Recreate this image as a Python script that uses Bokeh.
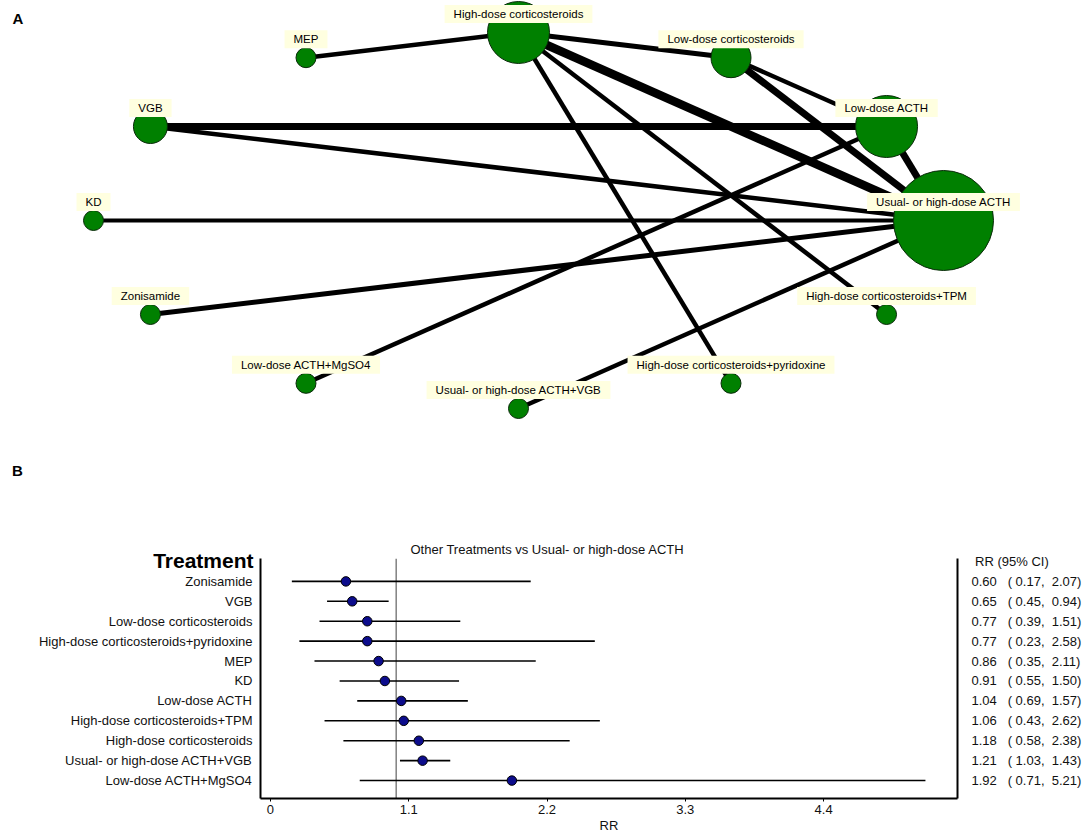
import numpy as np
from bokeh.plotting import figure
from bokeh.models import Range1d, Label, Span, FixedTicker, LinearAxis, ColumnDataSource
from bokeh.layouts import column
from bokeh.embed import file_html
from bokeh.resources import INLINE

FONT = "Liberation Sans"
NBSP = "\u00a0"

# ---------------- Panel A : network data ----------------
nodes = [
    "High-dose corticosteroids",
    "Low-dose corticosteroids",
    "Low-dose ACTH",
    "Usual- or high-dose ACTH",
    "High-dose corticosteroids+TPM",
    "High-dose corticosteroids+pyridoxine",
    "Usual- or high-dose ACTH+VGB",
    "Low-dose ACTH+MgSO4",
    "Zonisamide",
    "KD",
    "VGB",
    "MEP",
]
node_weight = [62, 40, 62, 100, 20, 20, 20, 20, 20, 20, 34, 20]

edge_from = [
    "MEP",
    "High-dose corticosteroids",
    "High-dose corticosteroids",
    "High-dose corticosteroids",
    "High-dose corticosteroids",
    "Low-dose corticosteroids",
    "Low-dose corticosteroids",
    "Low-dose ACTH",
    "VGB",
    "VGB",
    "KD",
    "Zonisamide",
    "Low-dose ACTH+MgSO4",
    "Usual- or high-dose ACTH+VGB",
]
edge_to = [
    "High-dose corticosteroids",
    "Low-dose corticosteroids",
    "Usual- or high-dose ACTH",
    "High-dose corticosteroids+TPM",
    "High-dose corticosteroids+pyridoxine",
    "Low-dose ACTH",
    "Usual- or high-dose ACTH",
    "Usual- or high-dose ACTH",
    "Low-dose ACTH",
    "Usual- or high-dose ACTH",
    "Usual- or high-dose ACTH",
    "Usual- or high-dose ACTH",
    "Low-dose ACTH",
    "Usual- or high-dose ACTH",
]
edge_weight = [4.5, 5, 8.5, 4.5, 4.5, 4.5, 7, 7, 7, 4.5, 4, 5, 4.5, 4.5]

# ---------------- Panel B : forest plot data ----------------
treatments = [
    "Zonisamide",
    "VGB",
    "Low-dose corticosteroids",
    "High-dose corticosteroids+pyridoxine",
    "MEP",
    "KD",
    "Low-dose ACTH",
    "High-dose corticosteroids+TPM",
    "High-dose corticosteroids",
    "Usual- or high-dose ACTH+VGB",
    "Low-dose ACTH+MgSO4",
]
rr = [0.60, 0.65, 0.77, 0.77, 0.86, 0.91, 1.04, 1.06, 1.18, 1.21, 1.92]
ci_low = [0.17, 0.45, 0.39, 0.23, 0.35, 0.55, 0.69, 0.43, 0.58, 1.03, 0.71]
ci_high = [2.07, 0.94, 1.51, 2.58, 2.11, 1.50, 1.57, 2.62, 2.38, 1.43, 5.21]
x_ticks = [0, 1.1, 2.2, 3.3, 4.4]
x_tick_labels = ["0", "1.1", "2.2", "3.3", "4.4"]
reference_value = 1.0
panel_title = "Other Treatments vs Usual- or high-dose ACTH"


def no_align(p):
    try:
        p.frame_align = False
    except Exception:
        pass


# ================= Panel A figure =================
HA = 480
pA = figure(width=1084, height=HA, output_backend="svg", toolbar_location=None,
            x_range=Range1d(-1.21882, 1.33176), y_range=Range1d(-1.38298, 1.17021),
            x_axis_location=None, y_axis_location=None,
            min_border=0, min_border_left=0, min_border_right=0,
            min_border_top=0, min_border_bottom=0)
pA.title = None
pA.outline_line_color = None
pA.xgrid.grid_line_color = None
pA.ygrid.grid_line_color = None
no_align(pA)

ang = np.deg2rad(90 - 30 * np.arange(len(nodes)))
nx = np.cos(ang)
ny = np.sin(ang)
idx = {n: i for i, n in enumerate(nodes)}

esrc = ColumnDataSource(dict(
    x0=[nx[idx[a]] for a in edge_from], y0=[ny[idx[a]] for a in edge_from],
    x1=[nx[idx[b]] for b in edge_to], y1=[ny[idx[b]] for b in edge_to],
    w=edge_weight))
pA.segment(x0="x0", y0="y0", x1="x1", y1="y1", line_width="w", line_color="black",
           source=esrc)

nsrc = ColumnDataSource(dict(x=nx, y=ny, s=node_weight))
pA.scatter(x="x", y="y", size="s", fill_color="#008000", line_color="#0a2a0a",
           line_width=1, source=nsrc)

for name, x, y in zip(nodes, nx, ny):
    pA.add_layout(Label(x=float(x), y=float(y), x_offset=2, y_offset=16.5, text=name,
                        text_alpha=0, text_font=FONT, text_font_size="11.5px",
                        text_align="center", text_baseline="middle",
                        background_fill_color="#8c8c8c", padding=(9, 3)))
    pA.add_layout(Label(x=float(x), y=float(y), y_offset=18.5, text=name,
                        text_color="black", text_font=FONT, text_font_size="11.5px",
                        text_align="center", text_baseline="middle",
                        background_fill_color="#FFFFE0", padding=(9, 3)))

pA.add_layout(Label(x=17.5, y=HA - 17.5, x_units="screen", y_units="screen", text="A",
                    text_color="black", text_font=FONT, text_font_size="15px",
                    text_font_style="bold", text_align="center", text_baseline="middle"))
pA.add_layout(Label(x=17, y=HA - 470, x_units="screen", y_units="screen", text="B",
                    text_color="black", text_font=FONT, text_font_size="15px",
                    text_font_style="bold", text_align="center", text_baseline="middle"))

# ================= Panel B figure =================
HB = 835 - HA
TOP = 558 - HA  # frame top offset inside panel B
pB = figure(width=1084, height=HB, output_backend="svg", toolbar_location=None,
            x_range=Range1d(-0.0794, 5.465), y_range=Range1d(10.9, -1.15),
            x_axis_location=None, y_axis_location=None,
            min_border_left=260, min_border_right=126,
            min_border_top=TOP, min_border_bottom=36)
pB.title = None
pB.outline_line_color = None
pB.xgrid.grid_line_color = None
pB.ygrid.grid_line_color = None
no_align(pB)

rows = list(range(len(treatments)))

xaxis = LinearAxis(ticker=FixedTicker(ticks=x_ticks),
                   major_label_overrides={t: l for t, l in zip(x_ticks, x_tick_labels)},
                   axis_label="RR")
pB.add_layout(xaxis, "below")

yleft = LinearAxis(ticker=FixedTicker(ticks=rows),
                   major_label_overrides={i: t for i, t in zip(rows, treatments)})
pB.add_layout(yleft, "left")

right_labels = {-1: NBSP + "RR (95% CI)"}
for i, r, lo, hi in zip(rows, rr, ci_low, ci_high):
    right_labels[i] = f"{r:.2f}{NBSP*3}({NBSP}{lo:.2f},{NBSP*2}{hi:.2f})"
yright = LinearAxis(ticker=FixedTicker(ticks=[-1] + rows),
                    major_label_overrides=right_labels)
pB.add_layout(yright, "right")

for ax in (xaxis, yleft, yright):
    ax.axis_line_color = "black"
    ax.axis_line_width = 2
    ax.major_tick_line_color = "black"
    ax.minor_tick_line_color = None
    ax.major_label_text_font = FONT
    ax.major_label_text_font_size = "13px"
    ax.major_label_text_color = "#111111"
    ax.axis_label_text_font = FONT
    ax.axis_label_text_font_size = "13px"
    ax.axis_label_text_font_style = "normal"
    ax.axis_label_text_color = "#111111"

xaxis.major_tick_out = 3
xaxis.major_tick_in = 0
xaxis.major_label_standoff = 3
xaxis.axis_label_standoff = 1
yleft.major_tick_out = 0
yleft.major_tick_in = 0
yleft.major_label_standoff = 8
yright.major_tick_out = 0
yright.major_tick_in = 0
yright.major_label_standoff = 14

pB.add_layout(Span(location=reference_value, dimension="height", line_color="#808080",
                   line_width=1.5, level="underlay"))

fsrc = ColumnDataSource(dict(row=rows, rr=rr, lo=ci_low, hi=ci_high))
pB.segment(x0="lo", y0="row", x1="hi", y1="row", line_color="black", line_width=1.6,
           source=fsrc)
pB.scatter(x="rr", y="row", size=9.5, fill_color="#0c0c8c", line_color="black",
           line_width=1, source=fsrc)

# header texts placed in the panel above the frame (not clipped there)
pB.add_layout(Label(x=150, y=9, x_units="screen", y_units="screen", text=panel_title,
                    text_font=FONT, text_font_size="13px", text_color="#111111",
                    text_baseline="middle"), "above")
pB.add_layout(Label(x=-7, y=-17, x_units="screen", y_units="screen",
                    text="Treatment", text_font=FONT, text_font_size="21px",
                    text_color="black", text_font_style="bold", text_align="right",
                    text_baseline="alphabetic"), "above")

layout = column(pA, pB)
open("out.html", "w").write(file_html(layout, INLINE))
